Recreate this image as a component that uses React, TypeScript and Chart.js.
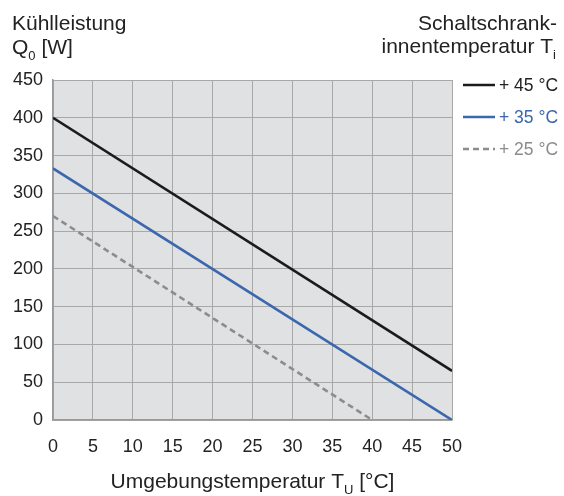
import React, { useEffect, useRef } from "react";
import { Chart, registerables } from "chart.js";

Chart.register(...registerables);

// Data
const ambient45 = [0, 50];
const cooling45 = [400, 65];
const ambient35 = [0, 50];
const cooling35 = [333, 0];
const ambient25 = [0, 40];
const cooling25 = [270, 0];

const seriesLabels = ["+ 45 °C", "+ 35 °C", "+ 25 °C"];
const seriesColors = ["#1b1b1b", "#3a67ad", "#8c8c8c"];
const seriesDash: number[][] = [[], [], [6, 4]];

const xTicks = [0, 5, 10, 15, 20, 25, 30, 35, 40, 45, 50];
const yTicks = [0, 50, 100, 150, 200, 250, 300, 350, 400, 450];

const FONT = "'Liberation Sans', Arial, sans-serif";

function toPoints(xs: number[], ys: number[]) {
  return xs.map((x, i) => ({ x, y: ys[i] }));
}

function drawSub(
  ctx: CanvasRenderingContext2D,
  parts: { t: string; sub?: boolean }[],
  x: number,
  y: number,
  size: number,
  align: "left" | "right" | "center",
  color: string
) {
  ctx.save();
  ctx.fillStyle = color;
  ctx.textBaseline = "alphabetic";
  ctx.textAlign = "left";
  const subSize = Math.round(size * 0.62);
  const widths = parts.map((p) => {
    ctx.font = `${p.sub ? subSize : size}px ${FONT}`;
    return ctx.measureText(p.t).width;
  });
  const total = widths.reduce((a, b) => a + b, 0);
  let cx = align === "left" ? x : align === "right" ? x - total : x - total / 2;
  parts.forEach((p, i) => {
    ctx.font = `${p.sub ? subSize : size}px ${FONT}`;
    ctx.fillText(p.t, cx, p.sub ? y + size * 0.28 : y);
    cx += widths[i];
  });
  ctx.restore();
}

const decorPlugin = {
  id: "decor",
  beforeDraw(chart: any) {
    const { ctx, chartArea } = chart;
    ctx.save();
    ctx.fillStyle = "#e0e1e3";
    ctx.fillRect(chartArea.left, chartArea.top, chartArea.right - chartArea.left, chartArea.bottom - chartArea.top);
    ctx.restore();
  },
  afterDraw(chart: any) {
    const { ctx, chartArea } = chart;
    const textColor = "#222222";
    // Left title
    drawSub(ctx, [{ t: "Kühlleistung" }], 12, 30, 21, "left", textColor);
    drawSub(ctx, [{ t: "Q" }, { t: "0", sub: true }, { t: " [W]" }], 12, 54, 21, "left", textColor);
    // Right title
    drawSub(ctx, [{ t: "Schaltschrank-" }], 557, 30, 21, "right", textColor);
    drawSub(ctx, [{ t: "innentemperatur T" }, { t: "i", sub: true }], 556, 53, 21, "right", textColor);
    // X axis title
    const cx = (chartArea.left + chartArea.right) / 2;
    drawSub(
      ctx,
      [{ t: "Umgebungstemperatur T" }, { t: "U", sub: true }, { t: " [°C]" }],
      cx,
      488,
      21,
      "center",
      textColor
    );
    // Legend
    const lx0 = chartArea.right + 11;
    const lx1 = lx0 + 32;
    seriesLabels.forEach((lab, i) => {
      const y = chartArea.top + 5 + i * 32;
      ctx.save();
      ctx.strokeStyle = seriesColors[i];
      ctx.lineWidth = 2.5;
      ctx.setLineDash(seriesDash[i]);
      ctx.beginPath();
      ctx.moveTo(lx0, y);
      ctx.lineTo(lx1, y);
      ctx.stroke();
      ctx.restore();
      drawSub(ctx, [{ t: lab }], lx1 + 4, y + 6, 17.5, "left", i === 0 ? textColor : seriesColors[i]);
    });
  },
};

export default function App() {
  const ref = useRef<HTMLCanvasElement | null>(null);
  useEffect(() => {
    if (!ref.current) return;
    const chart = new Chart(ref.current, {
      type: "line",
      data: {
        datasets: [
          { label: seriesLabels[0], data: toPoints(ambient45, cooling45) },
          { label: seriesLabels[1], data: toPoints(ambient35, cooling35) },
          { label: seriesLabels[2], data: toPoints(ambient25, cooling25) },
        ].map((d, i) => ({
          ...d,
          borderColor: seriesColors[i],
          backgroundColor: seriesColors[i],
          borderWidth: 2.6,
          borderDash: seriesDash[i],
          pointRadius: 0,
          fill: false,
          tension: 0,
        })),
      },
      options: {
        animation: false,
        responsive: false,
        layout: { padding: { left: 0, right: 112, top: 80, bottom: 0 } },
        plugins: { legend: { display: false }, tooltip: { enabled: false } },
        scales: {
          x: {
            type: "linear",
            min: xTicks[0],
            max: xTicks[xTicks.length - 1],
            afterBuildTicks: (s: any) => {
              s.ticks = xTicks.map((v) => ({ value: v }));
            },
            afterFit: (s: any) => {
              s.height = 76;
            },
            ticks: { color: "#222", font: { family: FONT, size: 18 }, padding: 16 },
            grid: { color: "#a8a8a8", lineWidth: 1, drawTicks: false },
            border: { color: "#999999", width: 1.5 },
          },
          y: {
            type: "linear",
            min: yTicks[0],
            max: yTicks[yTicks.length - 1],
            afterBuildTicks: (s: any) => {
              s.ticks = yTicks.map((v) => ({ value: v }));
            },
            afterFit: (s: any) => {
              s.width = 53;
            },
            ticks: { color: "#222", font: { family: FONT, size: 18 }, padding: 10 },
            grid: { color: "#a8a8a8", lineWidth: 1, drawTicks: false },
            border: { color: "#999999", width: 1.5 },
          },
        },
      },
      plugins: [decorPlugin],
    } as any);
    return () => chart.destroy();
  }, []);
  return (
    <div style={{ position: "absolute", left: 0, top: 0, width: 564, height: 496 }}>
      <canvas ref={ref} width={564} height={496} style={{ width: 564, height: 496 }} />
    </div>
  );
}
